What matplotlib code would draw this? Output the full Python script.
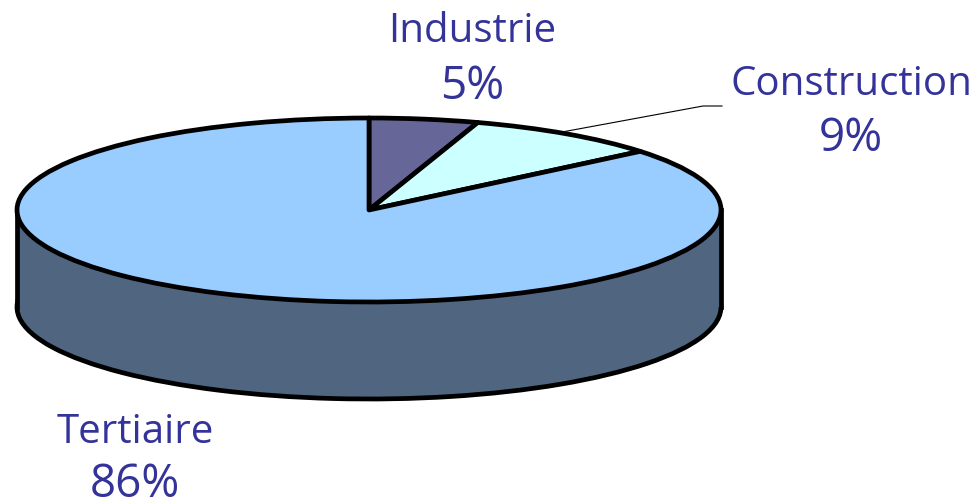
import matplotlib
matplotlib.use('Agg')
import matplotlib.pyplot as plt
from matplotlib.patches import Rectangle

labels = ['Industrie', 'Construction', 'Tertiaire']
values = [5, 9, 86]
colors = ['#666699', '#CCFFFF', '#99CCFF']
side_color = '#4F6580'
text_color = '#333399'
depth = 97 / 92.0

plt.rcParams['font.family'] = ['Open Sans', 'Liberation Sans', 'DejaVu Sans']

fig = plt.figure(figsize=(9.76, 5.03), dpi=100)
ax = fig.add_axes([0, 0, 1, 1])

# side of the disc first, the top goes over it
edge = dict(edgecolor='black', linewidth=3.4, joinstyle='round')
ax.pie(values, startangle=90, counterclock=False, center=(0, -depth),
       colors=[side_color] * len(values), wedgeprops=edge)
ax.add_patch(Rectangle((-1, -depth), 2, depth, facecolor=side_color, edgecolor='none', zorder=1.5))
# hides the spoke joint of the lower pie
ax.add_patch(Rectangle((-0.9, -depth - 0.1), 1.8, 0.2, facecolor=side_color, edgecolor='none', zorder=1.5))
ax.plot([-1, -1], [0, -depth], color='black', lw=3.4, zorder=1.6)
ax.plot([1, 1], [0, -depth], color='black', lw=3.4, zorder=1.6)

wedges, _ = ax.pie(values, startangle=90, counterclock=False,
                   colors=colors, wedgeprops=edge)
for w in wedges:
    w.set_zorder(3)

ax.set_aspect('auto')
# pixel frame of the picture mapped on the unit pie
ax.set_xlim(-369 / 352.0, (976 - 369) / 352.0)
ax.set_ylim((210 - 503) / 92.0, 210 / 92.0)
ax.axis('off')

# leader line of the Construction label
ax.plot([(562 - 369) / 352.0, (703 - 369) / 352.0, (722 - 369) / 352.0],
        [(210 - 132) / 92.0, (210 - 106) / 92.0, (210 - 106) / 92.0],
        color='black', lw=0.8, zorder=4)

# centre x, baseline of name, baseline of percent
label_pos = [(472, 42, 99), (851, 95, 151), (135, 443, 497)]
for name, val, (px, py1, py2) in zip(labels, values, label_pos):
    ax.text((px - 369) / 352.0, (210 - py1) / 92.0, name, ha='center', va='baseline',
            color=text_color, fontsize=29, zorder=5)
    ax.text((px - 369) / 352.0, (210 - py2) / 92.0, '%d%%' % val, ha='center', va='baseline',
            color=text_color, fontsize=33, zorder=5)

fig.savefig('out.png', dpi=100)
